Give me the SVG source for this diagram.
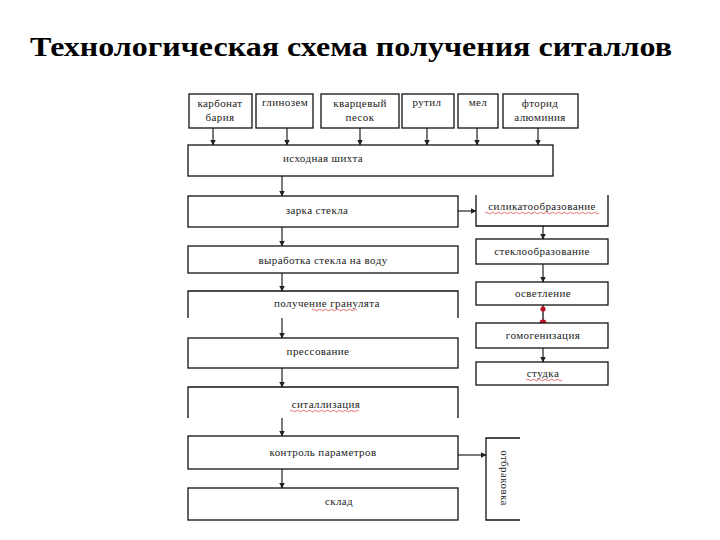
<svg xmlns="http://www.w3.org/2000/svg" width="720" height="540" viewBox="0 0 720 540">
<defs>
<marker id="ah" markerWidth="6" markerHeight="6" refX="5.5" refY="3" orient="auto" markerUnits="userSpaceOnUse">
<path d="M0,0 L6,3 L0,6 Z" fill="#222"/>
</marker>
<style>
.bx{fill:#fff;stroke:#111;stroke-width:1.3}
.ln{fill:none;stroke:#111;stroke-width:1.3}
.t{font-family:"Liberation Serif","Times New Roman",serif;font-size:11px;letter-spacing:0.4px;fill:#222;text-anchor:middle}
.title{font-family:"Liberation Serif","Times New Roman",serif;font-size:27px;font-weight:bold;fill:#000}
.cn{fill:none;stroke:#222;stroke-width:1.2;marker-end:url(#ah)}
.sq{fill:none;stroke:#d33;stroke-width:0.7}
.dot{fill:#c0102a}
</style>
</defs>
<rect width="720" height="540" fill="#fff"/>
<text class="title" x="30" y="56" textLength="642" lengthAdjust="spacingAndGlyphs">Технологическая схема получения ситаллов</text>

<g id="connectors">
<line class="cn" x1="213" y1="128" x2="213" y2="145"/>
<line class="cn" x1="287" y1="128" x2="287" y2="145"/>
<line class="cn" x1="360" y1="128" x2="360" y2="145"/>
<line class="cn" x1="427" y1="128" x2="427" y2="145"/>
<line class="cn" x1="477" y1="128" x2="477" y2="145"/>
<line class="cn" x1="538" y1="128" x2="538" y2="145"/>
<line class="cn" x1="282" y1="176" x2="282" y2="196"/>
<line class="cn" x1="282" y1="227" x2="282" y2="246"/>
<line class="cn" x1="282" y1="273" x2="282" y2="291"/>
<line class="cn" x1="282" y1="318" x2="282" y2="338"/>
<line class="cn" x1="282" y1="368" x2="282" y2="387"/>
<line class="cn" x1="282" y1="418" x2="282" y2="436"/>
<line class="cn" x1="282" y1="469" x2="282" y2="488"/>
<line class="cn" x1="458" y1="211" x2="476" y2="211"/>
<line class="cn" x1="543" y1="226" x2="543" y2="239"/>
<line class="cn" x1="543" y1="264" x2="543" y2="282"/>
<line class="ln" x1="543" y1="305" x2="543" y2="323"/>
<circle class="dot" cx="543" cy="309" r="2.6"/>
<circle class="dot" cx="543" cy="323" r="3.4"/>
<line class="cn" x1="543" y1="348" x2="543" y2="362"/>
<line class="cn" x1="458" y1="455" x2="486" y2="455"/>
</g>

<g id="n-karbonat"><rect class="bx" x="189" y="94" width="63" height="34"/><text class="t" x="220" y="107">карбонат</text><text class="t" x="220" y="121">бария</text></g>
<g id="n-glinozem"><rect class="bx" x="256" y="94" width="57" height="34"/><text class="t" x="285" y="106">глинозем</text></g>
<g id="n-kvarc"><rect class="bx" x="321" y="94" width="78" height="34"/><text class="t" x="360" y="107">кварцевый</text><text class="t" x="360" y="121">песок</text></g>
<g id="n-rutil"><rect class="bx" x="402" y="94" width="52" height="34"/><text class="t" x="427" y="106">рутил</text></g>
<g id="n-mel"><rect class="bx" x="458" y="94" width="40" height="34"/><text class="t" x="478" y="106">мел</text></g>
<g id="n-ftorid"><rect class="bx" x="503" y="94" width="75" height="34"/><text class="t" x="540" y="107">фторид</text><text class="t" x="540" y="121">алюминия</text></g>

<g id="n-shihta"><rect class="bx" x="188" y="145" width="365" height="31"/><text class="t" x="323" y="162">исходная шихта</text></g>
<g id="n-zarka"><rect class="bx" x="188" y="196" width="270" height="31"/><text class="t" x="317" y="214">зарка стекла</text></g>
<g id="n-vyrabotka"><rect class="bx" x="188" y="246" width="270" height="27"/><text class="t" x="323" y="264">выработка стекла на воду</text></g>
<g id="n-granulyat"><path class="ln" d="M188,318 V291 H458 V318"/><text class="t" x="327" y="307">получение гранулята</text><path class="sq" d="M312,310 q1.5,-1.5 3,0 t3,0 t3,0 t3,0 t3,0 t3,0 t3,0 t3,0 t3,0 t3,0 t3,0 t3,0 t3,0 t3,0 t3,0"/></g>
<g id="n-pressovanie"><rect class="bx" x="188" y="338" width="270" height="30"/><text class="t" x="318" y="355">прессование</text></g>
<g id="n-sitallizaciya"><path class="ln" d="M188,418 V387 H458 V418"/><text class="t" x="326" y="408">ситаллизация</text><path class="sq" d="M290,411 q1.5,-1.5 3,0 t3,0 t3,0 t3,0 t3,0 t3,0 t3,0 t3,0 t3,0 t3,0 t3,0 t3,0 t3,0 t3,0 t3,0 t3,0 t3,0 t3,0 t3,0 t3,0 t3,0 t3,0 t3,0"/></g>
<g id="n-kontrol"><rect class="bx" x="188" y="436" width="270" height="33"/><text class="t" x="323" y="456">контроль параметров</text></g>
<g id="n-sklad"><rect class="bx" x="188" y="488" width="270" height="32"/><text class="t" x="339" y="505">склад</text></g>

<g id="n-silikat"><path class="ln" d="M476,195 V226 H608 V195"/><text class="t" x="542" y="210">силикатообразование</text><path class="sq" d="M485,213 q1.5,-1.5 3,0 t3,0 t3,0 t3,0 t3,0 t3,0 t3,0 t3,0 t3,0 t3,0 t3,0 t3,0 t3,0 t3,0 t3,0 t3,0 t3,0 t3,0 t3,0 t3,0 t3,0 t3,0 t3,0 t3,0 t3,0 t3,0 t3,0 t3,0 t3,0 t3,0 t3,0 t3,0 t3,0 t3,0 t3,0 t3,0 t3,0 t3,0"/></g>
<g id="n-steklo"><rect class="bx" x="476" y="239" width="132" height="25"/><text class="t" x="542" y="255">стеклообразование</text></g>
<g id="n-osvetlenie"><rect class="bx" x="476" y="282" width="132" height="23"/><text class="t" x="543" y="297">осветление</text></g>
<g id="n-gomogen"><rect class="bx" x="476" y="323" width="132" height="25"/><text class="t" x="543" y="339">гомогенизация</text></g>
<g id="n-studka"><rect class="bx" x="476" y="362" width="132" height="23"/><text class="t" x="543" y="377">студка</text><path class="sq" d="M526,380 q1.5,-1.5 3,0 t3,0 t3,0 t3,0 t3,0 t3,0 t3,0 t3,0 t3,0 t3,0 t3,0 t3,0"/></g>
<g id="n-otbrakovka"><path class="ln" d="M520,438 H486 V520 H520"/><text class="t" transform="translate(501,478) rotate(90)" x="0" y="0">отбраковка</text></g>
</svg>
